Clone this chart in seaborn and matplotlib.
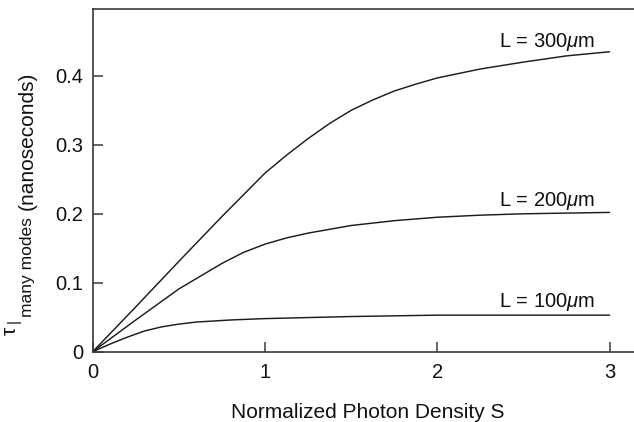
import matplotlib
matplotlib.use("Agg")
import matplotlib.pyplot as plt
import numpy as np
import pandas as pd
import seaborn as sns

# ---- data ----
x_300 = [0, 0.25, 0.5, 0.75, 1.0, 1.125, 1.25, 1.375, 1.5, 1.625, 1.75, 1.875,
         2.0, 2.25, 2.5, 2.75, 3.0]
y_300 = [0, 0.065, 0.131, 0.196, 0.259, 0.285, 0.309, 0.331, 0.350, 0.365, 0.378, 0.388,
         0.397, 0.410, 0.420, 0.429, 0.435]

x_200 = [0, 0.25, 0.5, 0.75, 0.875, 1.0, 1.125, 1.25, 1.5, 1.75, 2.0, 2.25, 2.5, 2.75, 3.0]
y_200 = [0, 0.046, 0.091, 0.128, 0.144, 0.156, 0.165, 0.172, 0.183, 0.190, 0.195, 0.198,
         0.200, 0.201, 0.202]

x_100 = [0, 0.1, 0.2, 0.3, 0.4, 0.5, 0.6, 0.8, 1.0, 1.5, 2.0, 2.5, 3.0]
y_100 = [0, 0.011, 0.021, 0.030, 0.036, 0.040, 0.043, 0.046, 0.048, 0.051, 0.053, 0.053, 0.053]

curve_labels = [r"L = 300$\mu$m", r"L = 200$\mu$m", r"L = 100$\mu$m"]
label_pos = [(2.915, 0.442), (2.915, 0.2116), (2.915, 0.0652)]

x_ticks = [0, 1, 2, 3]
x_tick_labels = ["0", "1", "2", "3"]
y_ticks = [0, 0.1, 0.2, 0.3, 0.4]
y_tick_labels = ["0", "0.1", "0.2", "0.3", "0.4"]

x_title = "Normalized Photon Density S"

# ---- style ----
sns.set_theme(style="ticks")
plt.rcParams["font.family"] = ["Liberation Sans", "DejaVu Sans"]
plt.rcParams["mathtext.fontset"] = "custom"
plt.rcParams["mathtext.rm"] = "Liberation Sans"
plt.rcParams["mathtext.it"] = "Liberation Sans:italic"

W, H = 634, 422
fig = plt.figure(figsize=(W / 100, H / 100), dpi=100)
x0, y0, y1 = 92.7, 351.7, 9.0
ax = fig.add_axes([x0 / W, 1 - y0 / H, 1 - x0 / W, (y0 - y1) / H])

line_color = "#1c1c1c"
for xs, ys in [(x_300, y_300), (x_200, y_200), (x_100, y_100)]:
    df = pd.DataFrame({"S": xs, "tau": ys})
    sns.lineplot(data=df, x="S", y="tau", ax=ax, color=line_color, lw=1.05)

for txt, (tx, ty) in zip(curve_labels, label_pos):
    ax.text(tx, ty, txt, ha="right", va="baseline", fontsize=14.5, color="#111")

ax.set_xlim(0, 3.142)
ax.set_ylim(0, 0.497)
ax.set_xticks(x_ticks)
ax.set_xticklabels(x_tick_labels)
ax.set_yticks(y_ticks)
ax.set_yticklabels(y_tick_labels)

spine_c = "#3a3a3a"
ax.spines["right"].set_visible(False)
for s in ["left", "bottom", "top"]:
    ax.spines[s].set_color(spine_c)
    ax.spines[s].set_linewidth(1.2)

ax.tick_params(axis="both", direction="in", length=7.5, width=1.1,
               color=spine_c, labelsize=14.5, labelcolor="#111")
ax.tick_params(axis="y", pad=7)
ax.tick_params(axis="x", pad=8)

ax.set_xlabel(x_title, fontsize=15, color="#111")
ax.xaxis.set_label_coords((367.5 - x0) / (W - x0), (y0 - 418) / (y0 - y1))
ax.xaxis.label.set_va("baseline")
ax.set_ylabel("")

# composite y-axis label (rotated pieces)
def ftext(px, py, s, size):
    fig.text(px / W, 1 - py / H, s, rotation=90, rotation_mode="anchor",
             ha="left", va="baseline", fontsize=size, color="#111")

ftext(16, 335, "τ", 15)
ftext(18, 323, "|", 11)
ftext(32, 317, "many modes", 12.5)
ftext(33, 210, "(nanoseconds)", 15)

fig.savefig("out.png", dpi=100)
